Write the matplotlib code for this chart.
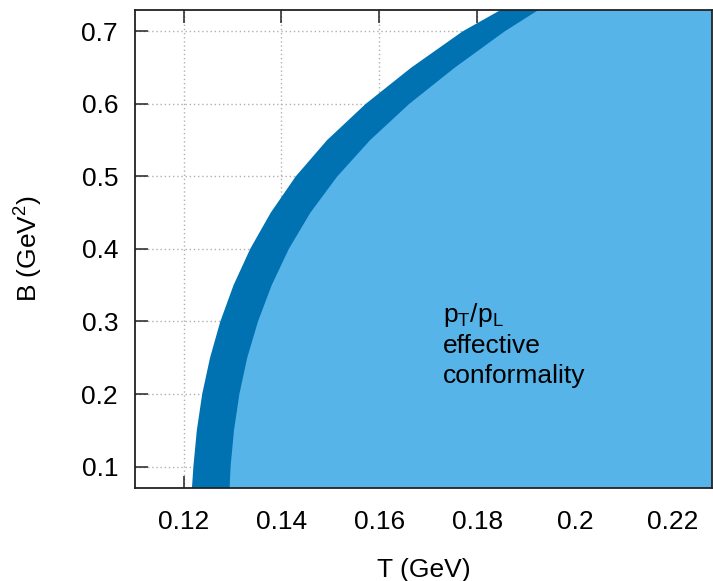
import numpy as np
import matplotlib
matplotlib.use("Agg")
import matplotlib.pyplot as plt

plt.rcParams['font.family'] = ['Liberation Sans', 'DejaVu Sans']
plt.rcParams['mathtext.default'] = 'regular'

B_vals = [0.07, 0.10, 0.15, 0.20, 0.25, 0.30, 0.35, 0.40, 0.45,
          0.50, 0.55, 0.60, 0.65, 0.70, 0.73]

# outer edge of the dark band (T in GeV)
T_outer = [0.1217, 0.1220, 0.1227, 0.1238, 0.1254, 0.1275, 0.1302, 0.1336, 0.1378,
           0.1429, 0.1493, 0.1572, 0.1665, 0.1770, 0.1849]

# inner edge (start of the light region)
T_inner = [0.1294, 0.1296, 0.1303, 0.1314, 0.1330, 0.1352, 0.1380, 0.1415, 0.1459,
           0.1514, 0.1581, 0.1661, 0.1754, 0.1856, 0.1926]

x_ticks = [0.12, 0.14, 0.16, 0.18, 0.2, 0.22]
x_labels = ['0.12', '0.14', '0.16', '0.18', '0.2', '0.22']
y_ticks = [0.1, 0.2, 0.3, 0.4, 0.5, 0.6, 0.7]
y_labels = ['0.1', '0.2', '0.3', '0.4', '0.5', '0.6', '0.7']

dark = '#0072b2'
light = '#56b4e9'

fig = plt.figure(figsize=(7.13, 5.81), dpi=100)
ax = fig.add_axes([0.1889, 0.1596, 0.8097, 0.8237])

xmin, xmax = 0.11, 0.228
ymin, ymax = 0.07, 0.73

# dotted grid under the filled regions
for x in x_ticks:
    ax.axvline(x, color='#b0b0b0', lw=1.0, ls=(0, (1, 2)), zorder=0)
for y in y_ticks:
    ax.axhline(y, color='#b0b0b0', lw=1.0, ls=(0, (1, 2)), zorder=0)

ax.fill_betweenx(B_vals, T_outer, 1.0, color=dark, lw=0, zorder=1)
ax.fill_betweenx(B_vals, T_inner, 1.0, color=light, lw=0, zorder=2)

ax.set_xlim(xmin, xmax)
ax.set_ylim(ymin, ymax)
ax.set_xticks(x_ticks)
ax.set_xticklabels(x_labels)
ax.set_yticks(y_ticks)
ax.set_yticklabels(y_labels)

ax.tick_params(direction='in', length=9, width=1.1, top=True, right=True,
               labelsize=19, color='#222222')
ax.tick_params(axis='x', pad=16)
ax.tick_params(axis='y', pad=12)
for s in ax.spines.values():
    s.set_linewidth(1.3)
    s.set_color('#222222')
    s.set_zorder(5)

ax.set_xlabel('T (GeV)', fontsize=19, labelpad=17)
ax.set_ylabel('B (GeV$^2$)', fontsize=19, labelpad=26)

ax.text(0.534, 0.348, '$p_T/p_L$', transform=ax.transAxes, fontsize=19, va='baseline', zorder=6)
ax.text(0.534, 0.2827, 'effective', transform=ax.transAxes, fontsize=19, va='baseline', zorder=6)
ax.text(0.534, 0.22, 'conformality', transform=ax.transAxes, fontsize=19, va='baseline', zorder=6)

fig.savefig('out.png', dpi=100)
